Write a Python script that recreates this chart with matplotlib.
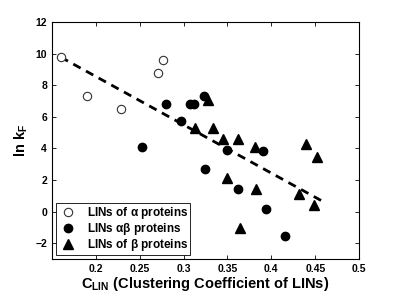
import matplotlib
matplotlib.use("Agg")
import matplotlib.pyplot as plt

# Data
alpha_c = [0.160, 0.190, 0.229, 0.271, 0.277]
alpha_lnk = [9.78, 7.30, 6.52, 8.75, 9.60]

ab_c = [0.253, 0.280, 0.297, 0.307, 0.312, 0.323, 0.3245, 0.349, 0.362, 0.390, 0.394, 0.416]
ab_lnk = [4.11, 6.79, 5.73, 6.80, 6.80, 7.34, 2.68, 3.90, 1.41, 3.85, 0.15, -1.53]

beta_c = [0.328, 0.313, 0.333, 0.345, 0.362, 0.381, 0.350, 0.382, 0.364, 0.440, 0.452, 0.4315, 0.449]
beta_lnk = [7.06, 5.31, 5.31, 4.58, 4.58, 4.07, 2.10, 1.43, -1.06, 4.26, 3.48, 1.09, 0.42]

fit_c = [0.160, 0.459]
fit_lnk = [9.78, 0.63]

xticks = [0.2, 0.25, 0.3, 0.35, 0.4, 0.45, 0.5]
yticks = [-2, 0, 2, 4, 6, 8, 10, 12]

plt.rcParams['font.family'] = ['Liberation Sans', 'DejaVu Sans']
plt.rcParams['font.weight'] = 'bold'
plt.rcParams['mathtext.fontset'] = 'custom'
plt.rcParams['mathtext.rm'] = 'Liberation Sans:bold'
plt.rcParams['mathtext.it'] = 'Liberation Sans:bold'
plt.rcParams['mathtext.bf'] = 'Liberation Sans:bold'

fig = plt.figure(figsize=(3.96, 2.98), dpi=100)
ax = fig.add_axes([0.131, 0.131, 0.776, 0.795])

ax.plot(fit_c, fit_lnk, '--', color='black', linewidth=2, dashes=(3, 2.2))
ax.plot(alpha_c, alpha_lnk, 'o', mfc='white', mec='#333333', mew=0.8, ms=6,
        label=r'LINs of $\mathregular{\alpha}$ proteins')
ax.plot(ab_c, ab_lnk, 'o', color='black', ms=6,
        label=r'LINs $\mathregular{\alpha\beta}$ proteins')
ax.plot(beta_c, beta_lnk, '^', color='black', ms=6.5,
        label=r'LINs of $\mathregular{\beta}$ proteins')

ax.set_xlim(0.15, 0.5)
ax.set_ylim(-3, 12)
ax.set_xticks(xticks)
ax.set_xticklabels([f'{t:g}' for t in xticks])
ax.set_yticks(yticks)
ax.tick_params(direction='in', top=True, right=True, labelsize=7.5, length=3, width=0.6)
for s in ax.spines.values():
    s.set_linewidth(0.8)

ax.set_xlabel(r'C$_{\mathregular{LIN}}$ (Clustering Coefficient of LINs)', fontsize=10.5,
              fontweight='bold', labelpad=1)
ax.set_ylabel(r'ln k$_{\mathregular{F}}$', fontsize=10.5, fontweight='bold', labelpad=4)

leg = ax.legend(loc='lower left', fontsize=8.5, fancybox=False, edgecolor='black',
                handletextpad=0.7, borderaxespad=0.35, labelspacing=0.0,
                borderpad=0.15, handlelength=1.8, framealpha=1)
leg.get_frame().set_linewidth(0.6)

fig.savefig('out.png', dpi=100)
